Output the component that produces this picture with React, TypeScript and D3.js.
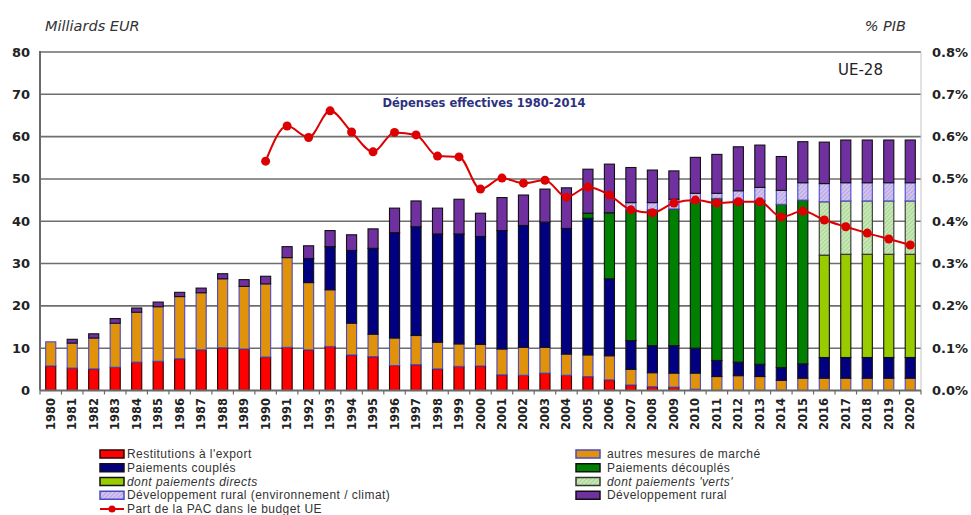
import React from 'react';
import * as d3 from 'd3';

const years = d3.range(1980, 2021).map(String);

const restitutions = [5.8, 5.3, 5.1, 5.5, 6.7, 6.9, 7.5, 9.6, 10.1, 9.8, 7.9, 10.2, 9.6, 10.4, 8.4, 8.0, 5.9, 6.1, 5.1, 5.7, 5.8, 3.7, 3.6, 4.1, 3.6, 3.3, 2.5, 1.3, 0.9, 0.8, 0.3, 0, 0, 0, 0, 0, 0, 0, 0, 0, 0];
const autresMesures = [5.7, 5.9, 7.3, 10.4, 11.8, 12.9, 14.7, 13.5, 16.3, 14.8, 17.3, 21.2, 15.9, 13.4, 7.5, 5.3, 6.5, 6.9, 6.3, 5.3, 5.1, 6.1, 6.6, 6.1, 5.0, 5.1, 5.7, 3.7, 3.3, 3.3, 3.8, 3.3, 3.5, 3.3, 2.4, 2.9, 2.9, 2.9, 2.9, 2.9, 2.9];
const paiementsCouples = [0, 0, 0, 0, 0, 0, 0, 0, 0, 0, 0, 0, 5.7, 10.2, 17.2, 20.3, 24.9, 25.7, 25.6, 26.0, 25.5, 28.0, 28.8, 29.6, 29.7, 32.3, 18.2, 6.8, 6.4, 6.5, 5.9, 3.8, 3.2, 2.9, 3.0, 3.4, 4.9, 4.9, 4.9, 4.9, 4.9];
const paiementsDecouples = [0, 0, 0, 0, 0, 0, 0, 0, 0, 0, 0, 0, 0, 0, 0, 0, 0, 0, 0, 0, 0, 0, 0, 0, 0, 1.2, 15.6, 31.0, 32.1, 32.3, 34.6, 38.3, 38.3, 38.7, 38.6, 38.7, 0, 0, 0, 0, 0];
const paiementsDirects = [0, 0, 0, 0, 0, 0, 0, 0, 0, 0, 0, 0, 0, 0, 0, 0, 0, 0, 0, 0, 0, 0, 0, 0, 0, 0, 0, 0, 0, 0, 0, 0, 0, 0, 0, 0, 24.2, 24.4, 24.4, 24.4, 24.4];
const paiementsVerts = [0, 0, 0, 0, 0, 0, 0, 0, 0, 0, 0, 0, 0, 0, 0, 0, 0, 0, 0, 0, 0, 0, 0, 0, 0, 0, 0, 0, 0, 0, 0, 0, 0, 0, 0, 0, 12.6, 12.6, 12.6, 12.6, 12.6];
const ruralEnvClimat = [0, 0, 0, 0, 0, 0, 0, 0, 0, 0, 0, 0, 0, 0, 0, 0, 0, 0, 0, 0, 0, 0, 0, 0, 0, 0, 0, 1.6, 1.7, 2.3, 2.0, 1.2, 2.2, 3.1, 3.3, 4.1, 4.3, 4.3, 4.3, 4.3, 4.3];
const developpementRural = [0, 0.9, 1.0, 1.1, 1.0, 1.1, 1.0, 1.1, 1.2, 1.6, 1.8, 2.6, 3.0, 3.8, 3.7, 4.6, 5.8, 6.1, 6.1, 8.2, 5.5, 7.8, 7.2, 7.8, 9.6, 10.4, 11.5, 8.3, 7.7, 6.7, 8.5, 9.2, 10.4, 10.0, 8.0, 9.7, 9.8, 10.1, 10.1, 10.1, 10.1];

const partPAC = [null, null, null, null, null, null, null, null, null, null, 0.542, 0.625, 0.598, 0.661, 0.611, 0.564, 0.61, 0.604, 0.554, 0.552, 0.476, 0.502, 0.49, 0.497, 0.457, 0.481, 0.462, 0.427, 0.42, 0.443, 0.45, 0.443, 0.446, 0.446, 0.41, 0.424, 0.403, 0.387, 0.372, 0.358, 0.344];

const leftTicks = [0, 10, 20, 30, 40, 50, 60, 70, 80];
const rightTicks = [0, 0.1, 0.2, 0.3, 0.4, 0.5, 0.6, 0.7, 0.8];

const seriesDefs = [
  { key: 'restitutions', label: "Restitutions à l'export", values: restitutions, fill: '#ff0000', stroke: '#2a0000', italic: false },
  { key: 'autres', label: 'autres mesures de marché', values: autresMesures, fill: '#e0920a', stroke: '#4a4ac8', italic: false },
  { key: 'couples', label: 'Paiements couplés', values: paiementsCouples, fill: '#000080', stroke: '#111111', italic: false },
  { key: 'decouples', label: 'Paiements découplés', values: paiementsDecouples, fill: '#008000', stroke: '#111111', italic: false },
  { key: 'directs', label: 'dont paiements directs', values: paiementsDirects, fill: '#99cc00', stroke: '#111111', italic: true },
  { key: 'verts', label: "dont paiements 'verts'", values: paiementsVerts, fill: 'url(#hatchVerts)', stroke: '#333333', italic: true },
  { key: 'ruralEnv', label: 'Développement rural (environnement / climat)', values: ruralEnvClimat, fill: 'url(#hatchEnv)', stroke: '#4a4ac8', italic: false },
  { key: 'rural', label: 'Développement rural', values: developpementRural, fill: '#7030a0', stroke: '#111111', italic: false },
];

const legendLeft = ['restitutions', 'couples', 'directs', 'ruralEnv'];
const legendRight = ['autres', 'decouples', 'verts', 'rural'];

export default function App() {
  const W = 971, H = 515;
  const x0 = 40, x1 = 921;
  const yTop = 52, yBot = 390.5;

  const x = d3.scaleBand<string>().domain(years).range([x0, x1]).paddingInner(0.53).paddingOuter(0.265);
  const y = d3.scaleLinear().domain([0, 80]).range([yBot, yTop]);
  const y2 = d3.scaleLinear().domain([0, 0.8]).range([yBot, yTop]);

  const rows = years.map((yr, i) => {
    const r: any = { year: yr };
    seriesDefs.forEach(s => { r[s.key] = s.values[i]; });
    return r;
  });
  const stacked = d3.stack<any>().keys(seriesDefs.map(s => s.key))(rows);

  const linePts = years.map((yr, i) => ({ yr, v: partPAC[i] })).filter(d => d.v != null) as { yr: string; v: number }[];
  const lineGen = d3.line<{ yr: string; v: number }>()
    .x(d => (x(d.yr) as number) + x.bandwidth() / 2)
    .y(d => y2(d.v))
    .curve(d3.curveMonotoneX);

  const fontV = "'DejaVu Sans', Verdana, sans-serif";
  const fontL = "'Liberation Sans', Arial, sans-serif";
  const byKey = (k: string) => seriesDefs.find(s => s.key === k)!;

  const legendRowY = [454, 467.75, 481.5, 495.25, 509];
  const legFont = 12;
  const legSpacing = 0.45;

  const renderLegendItem = (k: string, lx: number, ly: number, tx: number) => {
    const s = byKey(k);
    return (
      <g key={k}>
        <rect x={lx} y={ly - 4} width={24} height={8} fill={s.fill} stroke={s.stroke} strokeWidth={1.5} />
        <text x={tx} y={ly} dominantBaseline="central" fontFamily={fontL} fontSize={legFont} letterSpacing={legSpacing} fill="#333" fontStyle={s.italic ? 'italic' : 'normal'}>{s.label}</text>
      </g>
    );
  };

  return (
    <svg width={W} height={H} style={{ position: 'absolute', left: 0, top: 0, background: '#fff' }}>
      <defs>
        <pattern id="hatchVerts" width={3} height={3} patternUnits="userSpaceOnUse" patternTransform="rotate(45)">
          <rect width={3} height={3} fill="#c8e8b8" />
          <line x1={0} y1={0} x2={0} y2={3} stroke="#86c26c" strokeWidth={1} />
        </pattern>
        <pattern id="hatchEnv" width={3} height={3} patternUnits="userSpaceOnUse" patternTransform="rotate(45)">
          <rect width={3} height={3} fill="#d2c4ee" />
          <line x1={0} y1={0} x2={0} y2={3} stroke="#9a84d4" strokeWidth={1} />
        </pattern>
      </defs>

      {/* grid */}
      {leftTicks.filter(t => t > 0).map(t => (
        <line key={t} x1={x0} x2={x1} y1={y(t)} y2={y(t)} stroke="#6e6e6e" strokeWidth={1.6} />
      ))}
      <line x1={x1} x2={x1} y1={yTop} y2={yBot} stroke="#c4c4c4" strokeWidth={1} />

      {/* bars */}
      {stacked.map((layer, li) => {
        const s = seriesDefs[li];
        return (
          <g key={s.key}>
            {layer.map((d, i) => {
              const h = y(d[0]) - y(d[1]);
              if (h <= 0.01) return null;
              return (
                <rect key={i} x={x(years[i])} y={y(d[1])} width={x.bandwidth()} height={h}
                  fill={s.fill} stroke={s.stroke} strokeWidth={1.1} />
              );
            })}
          </g>
        );
      })}

      {/* axes */}
      <line x1={x0} x2={x0} y1={yTop - 1} y2={yBot} stroke="#6a6a6a" strokeWidth={2} />
      <line x1={x0} x2={x1} y1={yBot} y2={yBot} stroke="#6a6a6a" strokeWidth={2} />
      {years.map((yr, i) => {
        const bx = x0 + x.step() * i;
        return <line key={'t' + yr} x1={bx} x2={bx} y1={yBot} y2={yBot + 4} stroke="#6a6a6a" strokeWidth={1.2} />;
      })}
      <line x1={x1} x2={x1} y1={yBot} y2={yBot + 4} stroke="#6a6a6a" strokeWidth={1.2} />

      {leftTicks.map(t => (
        <text key={'l' + t} x={30} y={y(t)} textAnchor="end" dominantBaseline="central" fontFamily={fontV} fontWeight="bold" fontSize={13} fill="#222">{t}</text>
      ))}
      {rightTicks.map(t => (
        <text key={'r' + t} x={932} y={y2(t)} textAnchor="start" dominantBaseline="central" fontFamily={fontV} fontWeight="bold" fontSize={13} fill="#222">{d3.format('.1f')(t) + '%'}</text>
      ))}
      {years.map(yr => {
        const cx = (x(yr) as number) + x.bandwidth() / 2;
        return (
          <text key={'y' + yr} transform={`translate(${cx},398) rotate(-90)`} textAnchor="end" dominantBaseline="central"
            fontFamily={fontV} fontWeight="bold" fontSize={11.5} fill="#222">{yr}</text>
        );
      })}

      {/* line */}
      <path d={lineGen(linePts) || ''} fill="none" stroke="#dd0000" strokeWidth={2} />
      {linePts.map(d => (
        <circle key={'c' + d.yr} cx={(x(d.yr) as number) + x.bandwidth() / 2} cy={y2(d.v)} r={4.5} fill="#dd0000" />
      ))}

      {/* titles */}
      <text x={45} y={31} fontFamily={fontV} fontStyle="italic" fontSize={14.5} fill="#333">Milliards EUR</text>
      <text x={906} y={31} textAnchor="end" fontFamily={fontV} fontStyle="italic" fontSize={14.5} fill="#333">% PIB</text>
      <text x={838} y={75} fontFamily={fontV} fontSize={15} fill="#222">UE-28</text>
      <text x={484} y={107} textAnchor="middle" fontFamily={fontV} fontWeight="bold" fontSize={11.5} fill="#2e3180">Dépenses effectives 1980-2014</text>

      {/* legend */}
      {legendLeft.map((k, i) => renderLegendItem(k, 100, legendRowY[i], 127))}
      {legendRight.map((k, i) => renderLegendItem(k, 576, legendRowY[i], 607))}
      <g>
        <line x1={100} x2={124} y1={legendRowY[4]} y2={legendRowY[4]} stroke="#dd0000" strokeWidth={2} />
        <circle cx={112} cy={legendRowY[4]} r={3.5} fill="#dd0000" />
        <text x={127} y={legendRowY[4]} dominantBaseline="central" fontFamily={fontL} fontSize={legFont} letterSpacing={legSpacing} fill="#333">Part de la PAC dans le budget UE</text>
      </g>
    </svg>
  );
}
